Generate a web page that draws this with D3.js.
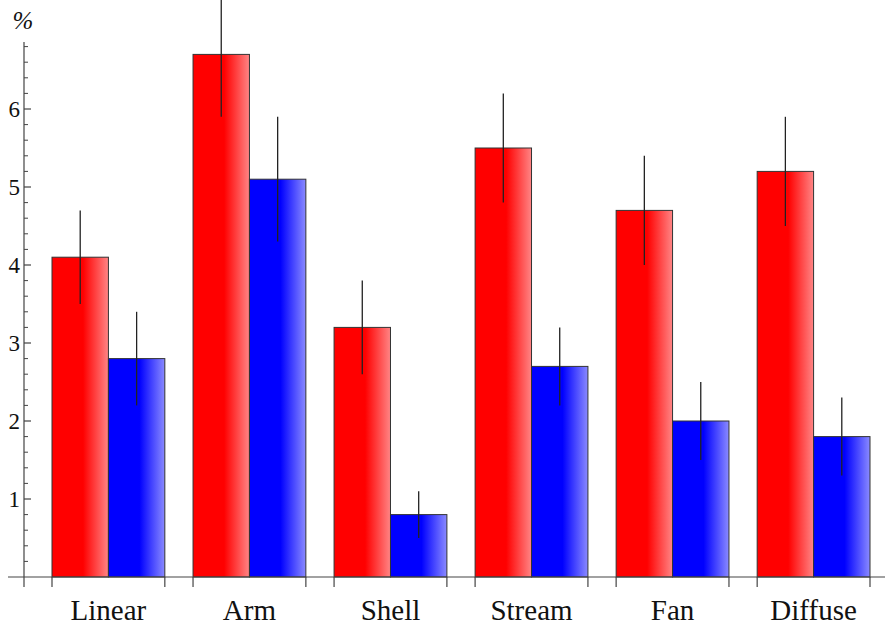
<!DOCTYPE html>
<html>
<head>
<meta charset="utf-8">
<script src="https://cdn.jsdelivr.net/npm/d3@7"></script>
<style>
  html, body { margin: 0; padding: 0; background: #fff; }
  svg { display: block; }
</style>
</head>
<body>
<svg id="chart" width="885" height="626"></svg>
<script>
const categories = ["Linear", "Arm", "Shell", "Stream", "Fan", "Diffuse"];
const seriesRed = [4.1, 6.7, 3.2, 5.5, 4.7, 5.2];
const errRed = [0.6, 0.8, 0.6, 0.7, 0.7, 0.7];
const seriesBlue = [2.8, 5.1, 0.8, 2.7, 2.0, 1.8];
const errBlue = [0.6, 0.8, 0.3, 0.5, 0.5, 0.5];
const yTicks = [1, 2, 3, 4, 5, 6];
const yLabel = "%";

const svg = d3.select("#chart");
const W = 885, H = 626;

const x = d3.scaleBand().domain(categories).range([52, 870]).paddingInner(0.2).paddingOuter(0);
const xs = d3.scaleBand().domain(["red", "blue"]).range([0, x.bandwidth()]).padding(0);
const y = d3.scaleLinear().domain([0, 6]).range([577, 109]);

const defs = svg.append("defs");
function grad(id, base, light) {
  const g = defs.append("linearGradient").attr("id", id).attr("x1", "0").attr("x2", "1").attr("y1", "0").attr("y2", "0");
  g.append("stop").attr("offset", "0").attr("stop-color", base);
  g.append("stop").attr("offset", "0.55").attr("stop-color", base);
  g.append("stop").attr("offset", "1").attr("stop-color", light);
}
grad("gRed", "#ff0000", "#ff8585");
grad("gBlue", "#0000ff", "#8a8aff");

const series = [
  { key: "red", values: seriesRed, errs: errRed, fill: "url(#gRed)" },
  { key: "blue", values: seriesBlue, errs: errBlue, fill: "url(#gBlue)" }
];

const axisColor = "#444";

// bars
series.forEach(s => {
  svg.append("g").selectAll("rect").data(categories).join("rect")
    .attr("x", (c) => x(c) + xs(s.key))
    .attr("y", (c, i) => y(s.values[i]))
    .attr("width", xs.bandwidth())
    .attr("height", (c, i) => y(0) - y(s.values[i]))
    .attr("fill", s.fill)
    .attr("stroke", "#333")
    .attr("stroke-width", 1);
});

// error bars
series.forEach(s => {
  svg.append("g").selectAll("line").data(categories).join("line")
    .attr("x1", (c) => x(c) + xs(s.key) + xs.bandwidth() / 2)
    .attr("x2", (c) => x(c) + xs(s.key) + xs.bandwidth() / 2)
    .attr("y1", (c, i) => y(s.values[i] + s.errs[i]))
    .attr("y2", (c, i) => y(s.values[i] - s.errs[i]))
    .attr("stroke", "#222")
    .attr("stroke-width", 1.3);
});

// x axis
const gx = svg.append("g");
gx.append("line").attr("x1", 8).attr("x2", W).attr("y1", y(0)).attr("y2", y(0))
  .attr("stroke", axisColor).attr("stroke-width", 1.2);
const edges = [];
categories.forEach(c => { edges.push(x(c)); edges.push(x(c) + x.bandwidth()); });
gx.selectAll("line.t").data(edges).join("line").attr("class", "t")
  .attr("x1", d => d).attr("x2", d => d).attr("y1", y(0)).attr("y2", y(0) + 10)
  .attr("stroke", axisColor).attr("stroke-width", 1.2);
gx.selectAll("text").data(categories).join("text")
  .attr("x", c => x(c) + x.bandwidth() / 2)
  .attr("y", 620)
  .attr("text-anchor", "middle")
  .attr("font-family", "'Liberation Serif', 'Times New Roman', serif")
  .attr("font-size", 29)
  .attr("fill", "#111")
  .text(c => c);

// y axis
const axX = 24;
const gy = svg.append("g");
gy.append("line").attr("x1", axX).attr("x2", axX).attr("y1", 42).attr("y2", y(0) + 10)
  .attr("stroke", axisColor).attr("stroke-width", 1.2);
const minor = d3.range(1, 35).map(i => i * 0.2).filter(v => Math.abs(v - Math.round(v)) > 1e-6);
gy.selectAll("line.mi").data(minor).join("line").attr("class", "mi")
  .attr("x1", axX).attr("x2", axX + 4)
  .attr("y1", d => y(d)).attr("y2", d => y(d))
  .attr("stroke", axisColor).attr("stroke-width", 1);
gy.selectAll("line.ma").data(yTicks).join("line").attr("class", "ma")
  .attr("x1", axX).attr("x2", axX + 7)
  .attr("y1", d => y(d)).attr("y2", d => y(d))
  .attr("stroke", axisColor).attr("stroke-width", 1.2);
gy.selectAll("text").data(yTicks).join("text")
  .attr("x", axX - 4)
  .attr("y", d => y(d) + 8)
  .attr("text-anchor", "end")
  .attr("font-family", "'Liberation Serif', 'Times New Roman', serif")
  .attr("font-size", 23)
  .attr("fill", "#111")
  .text(d => d);

svg.append("text")
  .attr("x", 23).attr("y", 29)
  .attr("text-anchor", "middle")
  .attr("font-family", "'Liberation Serif', 'Times New Roman', serif")
  .attr("font-style", "italic")
  .attr("font-size", 25)
  .attr("fill", "#111")
  .text(yLabel);
</script>
</body>
</html>
